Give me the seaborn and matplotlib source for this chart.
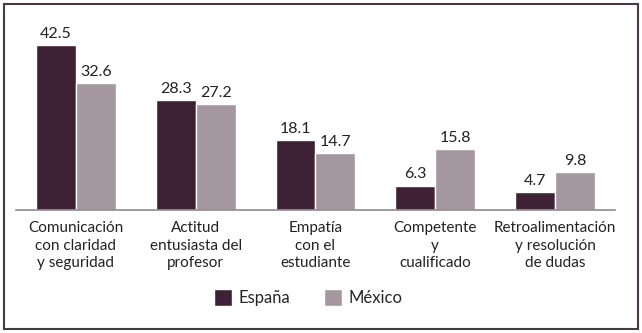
import pandas as pd
import seaborn as sns
import matplotlib.pyplot as plt
from matplotlib.patches import Rectangle

# datos
categorias = ['Comunicación\ncon claridad\ny seguridad',
              'Actitud\nentusiasta del\nprofesor',
              'Empatía\ncon el\nestudiante',
              'Competente\ny\ncualificado',
              'Retroalimentación\ny resolución\nde dudas']
espana = [42.5, 28.3, 18.1, 6.3, 4.7]
mexico = [32.6, 27.2, 14.7, 15.8, 9.8]
paises = ['España', 'México']
colores = ['#3f2136', '#a5979f']

df = pd.DataFrame({
    'categoria': categorias * 2,
    'pais': [paises[0]] * 5 + [paises[1]] * 5,
    'valor': espana + mexico,
})

sns.set_style('white')
plt.rcParams['font.family'] = ['Lato', 'DejaVu Sans']

fig = plt.figure(figsize=(6.42, 3.33), dpi=100)
ax = fig.add_axes([0.0249, 0.369, 0.933, 0.56])

sns.barplot(data=df, x='categoria', y='valor', hue='pais',
            palette=colores, width=0.667, saturation=1, ax=ax)

for cont in ax.containers:
    ax.bar_label(cont, fmt='%.1f', padding=3, fontsize=11.5, color='#222222')

ax.set_ylim(0, 48)
ax.set_xlim(-0.5, 4.5)
ax.set_xlabel('')
ax.set_ylabel('')
ax.set_yticks([])
for s in ['top', 'right', 'left']:
    ax.spines[s].set_visible(False)
ax.spines['bottom'].set_color('#8c8c8c')
ax.spines['bottom'].set_linewidth(1.2)

ax.tick_params(axis='x', which='major', length=0, pad=8, labelsize=11, labelcolor='#222222')
ax.set_xticks([i - 0.5 for i in range(6)], minor=True)
ax.tick_params(axis='x', which='minor', length=3, color='#8c8c8c', width=1.2)
for t in ax.get_xticklabels():
    t.set_linespacing(1.3)

h, l = ax.get_legend_handles_labels()
ax.legend(h, l, loc='lower center', bbox_to_anchor=(0.48, 0.035),
          bbox_transform=fig.transFigure, ncol=2, frameon=False,
          fontsize=12, handlelength=1.1, handleheight=1.2,
          handletextpad=0.4, columnspacing=2.0)

fig.patches.append(Rectangle((0.007, 0.012), 0.986, 0.976, transform=fig.transFigure,
                             fill=False, edgecolor='#4a3a45', linewidth=1.5))

fig.savefig('out.png', dpi=100)
